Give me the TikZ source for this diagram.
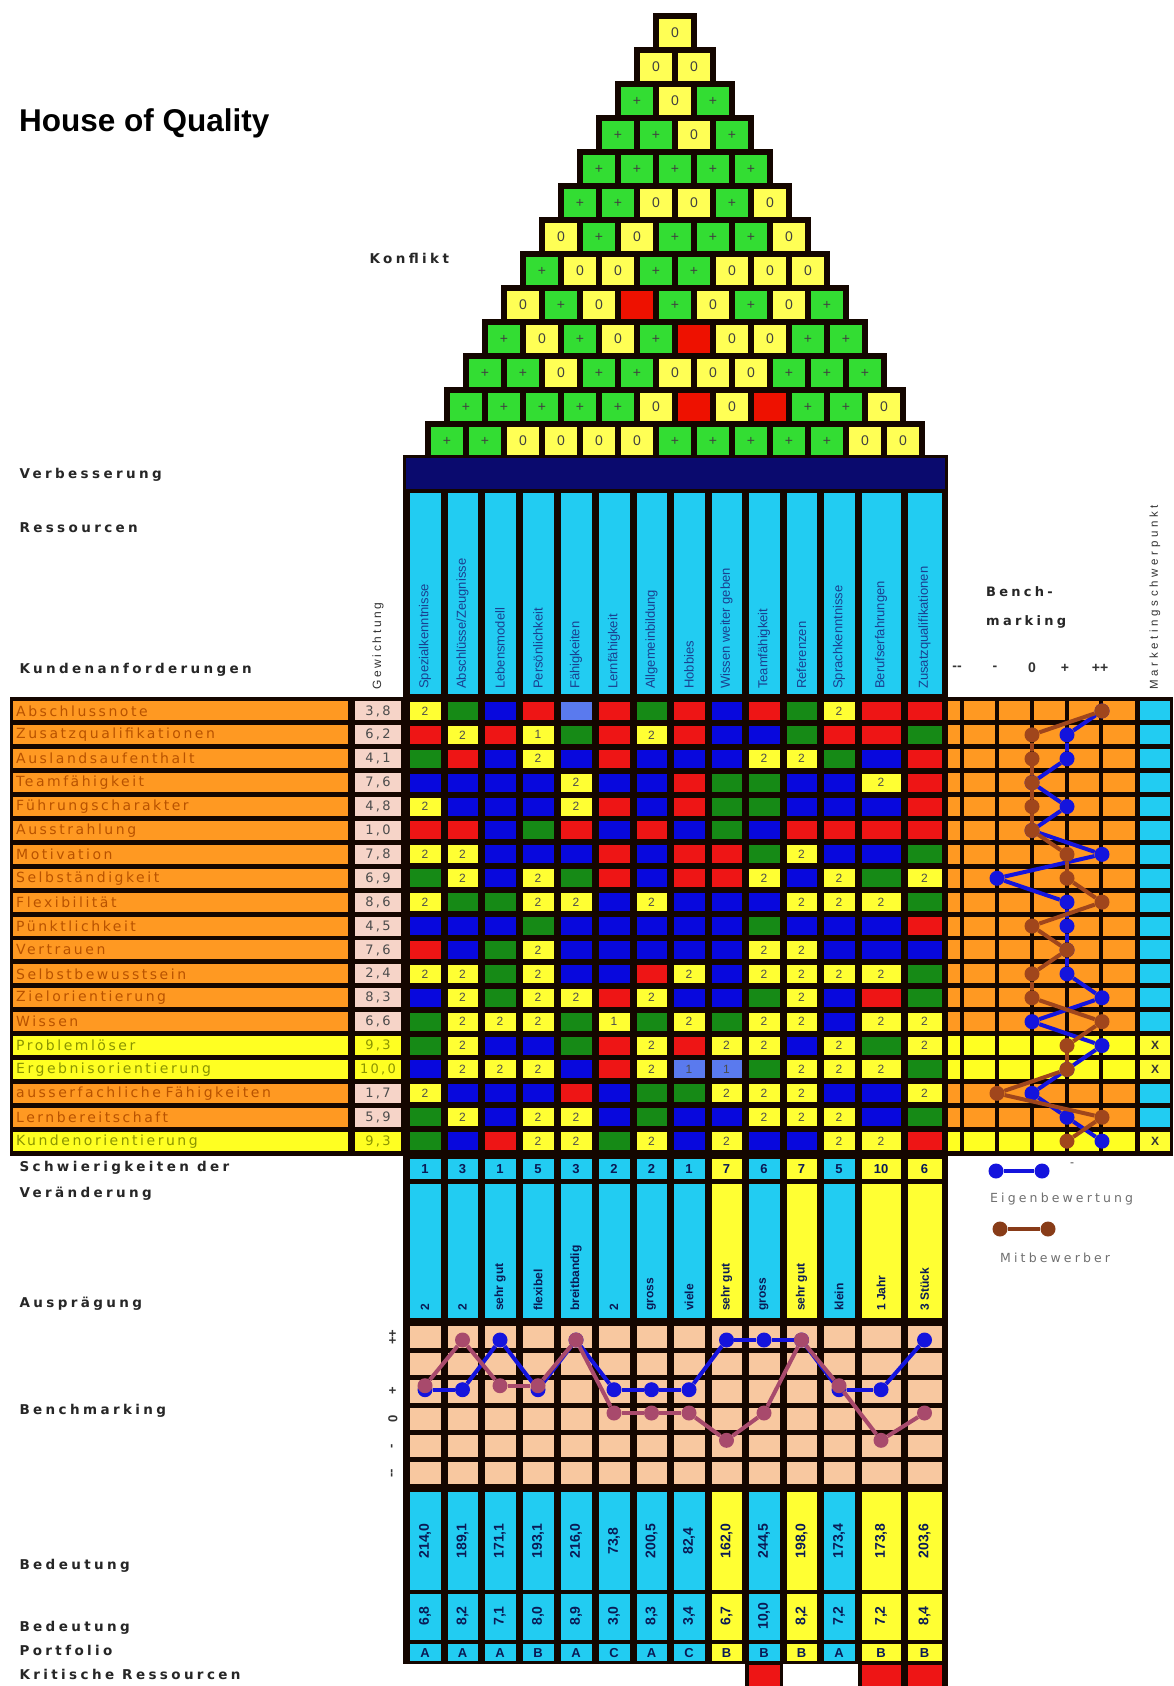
\documentclass[tikz,border=0pt]{standalone}
\usepackage{fontspec}
\setmainfont{Liberation Sans}
\newfontfamily\lblfont[LetterSpace=25]{DejaVu Sans}
\newfontfamily\rowfont[LetterSpace=18]{DejaVu Sans}
\newfontfamily\legfont[LetterSpace=25]{DejaVu Sans}
\newfontfamily\gewfont[LetterSpace=22]{Liberation Sans}
\newfontfamily\mktfont[LetterSpace=32]{Liberation Sans}

\definecolor{roofg}{HTML}{33DD33}
\definecolor{roofy}{HTML}{FFFF55}
\definecolor{roofr}{HTML}{EE1100}
\definecolor{band}{HTML}{0A0A6E}
\definecolor{cyanc}{HTML}{22CCF2}
\definecolor{my}{HTML}{FFFF33}
\definecolor{mg}{HTML}{168A16}
\definecolor{mb}{HTML}{0808DD}
\definecolor{mr}{HTML}{EE1515}
\definecolor{ml}{HTML}{5A7AEE}
\definecolor{orng}{HTML}{FF9922}
\definecolor{orngtxt}{HTML}{B85200}
\definecolor{ylw}{HTML}{FFFF22}
\definecolor{ylwtxt}{HTML}{8A9400}
\definecolor{wpink}{HTML}{F6D4C8}
\definecolor{peach}{HTML}{F8C8A0}
\definecolor{gridc}{HTML}{140600}
\definecolor{ptblue}{HTML}{1414DD}
\definecolor{ptbrown}{HTML}{A0461C}
\definecolor{ptmauve}{HTML}{A84A6C}
\definecolor{hdrtxt}{HTML}{1A4090}
\definecolor{btmtxt}{HTML}{0A1A55}
\definecolor{legtxt}{HTML}{707070}

% column edges of the relationship matrix
\newcommand\colL[1]{\csname qcl#1\endcsname}
\newcommand\colR[1]{\csname qcr#1\endcsname}
\foreach \a/\b [count=\n] in {406/444,444/481,481/519,519/557,557/595,595/633,633/670,670/708,708/745,745/783,783/820,820/858,858/904,904/945}{%
  \expandafter\xdef\csname qcl\n\endcsname{\a}%
  \expandafter\xdef\csname qcr\n\endcsname{\b}}

\tikzset{
  roofcell/.style={rectangle, inner sep=0, minimum width=32pt, minimum height=28pt,
    font=\fontsize{14}{14}\selectfont, text=black!75},
  mcell/.style={rectangle, inner sep=0, minimum height=18pt,
    font=\fontsize{12}{12}\selectfont, text=black!70},
  lbl/.style={anchor=base west, font=\lblfont\bfseries\fontsize{13.5}{15}\selectfont, text=black!85},
  reqlbl/.style={rectangle, anchor=west, inner xsep=3pt, inner ysep=0, minimum height=19pt,
    text width=329pt, align=left, font=\rowfont\fontsize{14}{14}\selectfont},
  rowo/.style={fill=orng, text=orngtxt},
  rowy/.style={fill=ylw, text=ylwtxt},
  wcell/.style={rectangle, inner sep=0, minimum width=46pt, minimum height=19pt,
    font=\rowfont\fontsize{13}{13}\selectfont},
  wo/.style={fill=wpink, text=black!70},
  wy/.style={fill=ylw, text=ylwtxt},
  beno/.style={fill=orng},
  beny/.style={fill=ylw},
  mko/.style={rectangle, inner sep=0, minimum width=30pt, minimum height=19pt, fill=cyanc},
  mky/.style={rectangle, inner sep=0, minimum width=30pt, minimum height=19pt, fill=my,
    font=\bfseries\fontsize{12}{12}\selectfont, text=black!80},
  hdr/.style={rotate=90, anchor=west, inner sep=0, font=\fontsize{13}{13}\selectfont, text=hdrtxt},
  btm/.style={inner sep=0, font=\bfseries\fontsize{13}{13}\selectfont, text=btmtxt},
  bdot/.style={circle, inner sep=0, minimum size=15pt},
  bline/.style={line width=4pt},
}

\begin{document}
\begin{tikzpicture}[x=1pt,y=-1pt]
\useasboundingbox (0,0) rectangle (1174,1686);
\fill[white] (0,0) rectangle (1174,1686);

\node[anchor=base west, inner sep=0, font=\bfseries\fontsize{31.5}{33}\selectfont] (title) at (19,131) {House of Quality};

% ---------- roof: correlation triangle ----------
\foreach \rowdata [count=\k] in {
  {y/0},
  {y/0,y/0},
  {g/+,y/0,g/+},
  {g/+,g/+,y/0,g/+},
  {g/+,g/+,g/+,g/+,g/+},
  {g/+,g/+,y/0,y/0,g/+,y/0},
  {y/0,g/+,y/0,g/+,g/+,g/+,y/0},
  {g/+,y/0,y/0,g/+,g/+,y/0,y/0,y/0},
  {y/0,g/+,y/0,r/{},g/+,y/0,g/+,y/0,g/+},
  {g/+,y/0,g/+,y/0,g/+,r/{},y/0,y/0,g/+,g/+},
  {g/+,g/+,y/0,g/+,g/+,y/0,y/0,y/0,g/+,g/+,g/+},
  {g/+,g/+,g/+,g/+,g/+,y/0,r/{},y/0,r/{},g/+,g/+,y/0},
  {g/+,g/+,y/0,y/0,y/0,y/0,g/+,g/+,g/+,g/+,g/+,y/0,y/0}}{
  \pgfmathsetmacro\yt{16+34*(\k-1)}
  \fill[gridc] (675-19*\k-3,\yt-3) rectangle (675+19*\k+3,\yt+35);
  \foreach \col/\sym [count=\j] in \rowdata {
    \node[roofcell, fill=roof\col] (roof-\k-\j) at (675-19*\k+38*\j-19,\yt+17) {\sym};
  }
}

\node[lbl] (konflikt) at (366,263) {Konflikt};

% ---------- improvement band and resource headers ----------
\fill[gridc] (403,455) rectangle (948,698);
\fill[band] (406,458) rectangle (945,489);
\foreach \hname [count=\cc] in {Spezialkenntnisse, Abschlüsse/Zeugnisse, Lebensmodell, Persönlichkeit,
  Fähigkeiten, Lernfähigkeit, Allgemeinbildung, Hobbies, Wissen weiter geben, Teamfähigkeit,
  Referenzen, Sprachkenntnisse, Berufserfahrungen, Zusatzqualifikationen}{
  \fill[cyanc] (\colL{\cc}+4,493) rectangle (\colR{\cc}-3,694);
  \node[hdr] (hdr-\cc) at ({(\colL{\cc}+\colR{\cc})/2},689) {\hname};
}

\node[lbl] (verb) at (16,478) {Verbesserung};
\node[lbl] (ress) at (16,532) {Ressourcen};
\node[lbl] (kund) at (16,673) {Kundenanforderungen};
\node[rotate=90, anchor=west, inner sep=0, font=\gewfont\fontsize{12}{12}\selectfont, text=black!80] (gew) at (378,690) {Gewichtung};

% ---------- customer requirements, weights, benchmarking grid ----------
\fill[gridc] (10,697) rectangle (1173,1156);
\foreach \name/\w/\tp/\mk [count=\rw] in {
  Abschlussnote/{3,8}/o/{}, Zusatzqualifikationen/{6,2}/o/{}, Auslandsaufenthalt/{4,1}/o/{},
  Teamfähigkeit/{7,6}/o/{}, Führungscharakter/{4,8}/o/{}, Ausstrahlung/{1,0}/o/{},
  Motivation/{7,8}/o/{}, Selbständigkeit/{6,9}/o/{}, Flexibilität/{8,6}/o/{},
  Pünktlichkeit/{4,5}/o/{}, Vertrauen/{7,6}/o/{}, Selbstbewusstsein/{2,4}/o/{},
  Zielorientierung/{8,3}/o/{}, Wissen/{6,6}/o/{}, Problemlöser/{9,3}/y/X,
  Ergebnisorientierung/{10,0}/y/X, ausserfachliche Fähigkeiten/{1,7}/o/{},
  Lernbereitschaft/{5,9}/o/{}, Kundenorientierung/{9,3}/y/X}{
  \pgfmathsetmacro\ym{710.95+23.9*(\rw-1)}
  \node[reqlbl, row\tp] (req-\rw) at (13,\ym) {\name};
  \node[wcell, w\tp] (w-\rw) at (378,\ym) {\w};
  \foreach \a/\b in {948/960,964/995,999/1030,1034/1065,1069/1099,1103/1135}{
    \fill[ben\tp] (\a,\ym-9.5) rectangle (\b,\ym+9.5);
  }
  \node[mk\tp] (mkt-\rw) at (1155,\ym) {\mk};
}

% ---------- relationship matrix ----------
\foreach \rowdata [count=\rw] in {
  {y/2,g/{},b/{},r/{},l/{},r/{},g/{},r/{},b/{},r/{},g/{},y/2,r/{},r/{}},
  {r/{},y/2,r/{},y/1,g/{},r/{},y/2,r/{},b/{},b/{},g/{},r/{},r/{},g/{}},
  {g/{},r/{},b/{},y/2,b/{},r/{},b/{},b/{},b/{},y/2,y/2,g/{},b/{},r/{}},
  {b/{},b/{},b/{},b/{},y/2,b/{},b/{},r/{},g/{},g/{},b/{},b/{},y/2,r/{}},
  {y/2,b/{},b/{},b/{},y/2,r/{},b/{},r/{},g/{},g/{},b/{},b/{},b/{},r/{}},
  {r/{},r/{},b/{},g/{},r/{},b/{},r/{},b/{},g/{},b/{},r/{},r/{},r/{},r/{}},
  {y/2,y/2,b/{},b/{},b/{},r/{},b/{},r/{},r/{},g/{},y/2,b/{},b/{},g/{}},
  {g/{},y/2,b/{},y/2,g/{},r/{},b/{},r/{},r/{},y/2,b/{},y/2,g/{},y/2},
  {y/2,g/{},g/{},y/2,y/2,b/{},y/2,b/{},b/{},b/{},y/2,y/2,y/2,g/{}},
  {b/{},b/{},b/{},g/{},b/{},b/{},b/{},b/{},b/{},g/{},b/{},b/{},b/{},r/{}},
  {r/{},b/{},g/{},y/2,b/{},b/{},b/{},b/{},b/{},y/2,y/2,b/{},b/{},b/{}},
  {y/2,y/2,g/{},y/2,b/{},b/{},r/{},y/2,b/{},y/2,y/2,y/2,y/2,g/{}},
  {b/{},y/2,g/{},y/2,y/2,r/{},y/2,b/{},b/{},g/{},y/2,b/{},r/{},g/{}},
  {g/{},y/2,y/2,y/2,g/{},y/1,g/{},y/2,g/{},y/2,y/2,b/{},y/2,y/2},
  {g/{},y/2,b/{},b/{},g/{},r/{},y/2,r/{},y/2,y/2,b/{},y/2,g/{},y/2},
  {b/{},y/2,y/2,y/2,b/{},r/{},y/2,l/1,l/1,g/{},y/2,y/2,y/2,g/{}},
  {y/2,b/{},b/{},b/{},r/{},b/{},g/{},g/{},y/2,y/2,y/2,b/{},b/{},y/2},
  {g/{},y/2,b/{},y/2,y/2,b/{},g/{},b/{},b/{},y/2,y/2,y/2,b/{},g/{}},
  {g/{},b/{},r/{},y/2,y/2,g/{},y/2,b/{},y/2,b/{},b/{},y/2,y/2,r/{}}}{
  \pgfmathsetmacro\ym{710.95+23.9*(\rw-1)}
  \foreach \col/\txt [count=\cc] in \rowdata {
    \pgfmathsetmacro\xm{(\colL{\cc}+\colR{\cc})/2}
    \pgfmathsetmacro\cw{\colR{\cc}-\colL{\cc}-7}
    \node[mcell, fill=m\col, minimum width=\cw pt] (m-\rw-\cc) at (\xm,\ym) {\txt};
  }
}

% ---------- right benchmarking: own rating and competitor ----------
\node[anchor=base west, inner sep=0, font=\lblfont\bfseries\fontsize{13}{15}\selectfont, text=black!85] (bench1) at (986,596) {Bench-};
\node[anchor=base west, inner sep=0, font=\lblfont\bfseries\fontsize{13}{15}\selectfont, text=black!85] (bench2) at (986,625) {marking};
\foreach \s/\x in {{-{}-}/957,-/995,0/1032,+/1065,++/1100}{
  \node[inner sep=0, font=\bfseries\fontsize{14}{14}\selectfont, text=black!80] (lv\x) at (\x,668) {\s};
}
\node[rotate=90, anchor=west, inner sep=0, font=\mktfont\fontsize{11.5}{11.5}\selectfont, text=black!80] (markt) at (1155,690) {Marketingschwerpunkt};

\foreach \lv [count=\rw] in {2,1,1,0,1,0,2,-1,1,1,1,1,2,0,2,1,0,1,2}{
  \node[bdot, fill=ptblue] (eb-\rw) at (1032+35*\lv,710.95+23.9*\rw-23.9) {};
}
\foreach \i in {1,...,18}{
  \pgfmathtruncatemacro\j{\i+1}
  \draw[bline, ptblue] (eb-\i) -- (eb-\j);
}
\foreach \lv [count=\rw] in {2,0,0,0,0,0,1,1,2,0,1,0,0,2,1,1,-1,2,1}{
  \node[bdot, fill=ptbrown] (mb-\rw) at (1032+35*\lv,710.95+23.9*\rw-23.9) {};
}
\foreach \i in {1,...,18}{
  \pgfmathtruncatemacro\j{\i+1}
  \draw[bline, ptbrown] (mb-\i) -- (mb-\j);
}

% legend
\node[bdot, fill=ptblue] (lgb1) at (996,1171) {};
\node[bdot, fill=ptblue] (lgb2) at (1042,1171) {};
\draw[bline, ptblue] (lgb1) -- (lgb2);
\node[inner sep=0, font=\fontsize{12}{12}\selectfont, text=black!70] (lgdash) at (1072,1165) {-};
\node[anchor=base west, inner sep=0, font=\legfont\fontsize{12.5}{14}\selectfont, text=legtxt] (lgtxt1) at (990,1202) {Eigenbewertung};
\node[bdot, fill=ptbrown!85!black] (lgm1) at (1000,1229) {};
\node[bdot, fill=ptbrown!85!black] (lgm2) at (1048,1229) {};
\draw[bline, ptbrown!85!black] (lgm1) -- (lgm2);
\node[anchor=base west, inner sep=0, font=\legfont\fontsize{12.5}{14}\selectfont, text=legtxt] (lgtxt2) at (1000,1262) {Mitbewerber};

% ---------- lower rooms ----------
\node[lbl] (schw1) at (16,1171) {Schwierigkeiten der};
\node[lbl] (schw2) at (16,1197) {Veränderung};
\node[lbl] (auspr) at (16,1307) {Ausprägung};
\node[lbl] (bench) at (16,1414) {Benchmarking};
\node[lbl] (bed1) at (16,1569) {Bedeutung};
\node[lbl] (bed2) at (16,1631) {Bedeutung};
\node[lbl] (portf) at (16,1655) {Portfolio};
\node[lbl] (krit) at (16,1679) {Kritische Ressourcen};

\fill[gridc] (403,1155) rectangle (948,1664);
% peach benchmarking grid
\foreach \pr in {0,...,5}{
  \foreach \cc in {1,...,14}{
    \fill[peach] (\colL{\cc}+4,1323+27.33*\pr+2.5) rectangle (\colR{\cc}-3,1323+27.33*\pr+27.33-2.5);
  }
}
\foreach \s/\y in {++/1337,+/1391,0/1419,-/1446,{-{}-}/1473}{
  \node[rotate=90, inner sep=0, font=\bfseries\fontsize{13}{13}\selectfont, text=black!80] (lvb\y) at (393,\y) {\s};
}

\tikzset{cellc/.style={fill=cyanc}, celly/.style={fill=my}}
\foreach \sw/\au/\be/\bv/\pf/\bc [count=\cc] in {
  1/2/{214,0}/{6,8}/A/c, 3/2/{189,1}/{8,2}/A/c, 1/sehr gut/{171,1}/{7,1}/A/c,
  5/flexibel/{193,1}/{8,0}/B/c, 3/breitbandig/{216,0}/{8,9}/A/c, 2/2/{73,8}/{3,0}/C/c,
  2/gross/{200,5}/{8,3}/A/c, 1/viele/{82,4}/{3,4}/C/c, 7/sehr gut/{162,0}/{6,7}/B/y,
  6/gross/{244,5}/{10,0}/B/c, 7/sehr gut/{198,0}/{8,2}/B/y, 5/klein/{173,4}/{7,2}/A/c,
  10/1 Jahr/{173,8}/{7,2}/B/y, 6/3 Stück/{203,6}/{8,4}/B/y}{
  \pgfmathsetmacro\xm{(\colL{\cc}+\colR{\cc})/2}
  \fill[cell\bc] (\colL{\cc}+4,1159) rectangle (\colR{\cc}-3,1179);
  \node[btm] (sw-\cc) at (\xm,1169) {\sw};
  \fill[cell\bc] (\colL{\cc}+4,1184) rectangle (\colR{\cc}-3,1318);
  \node[btm, rotate=90, anchor=west, font=\bfseries\fontsize{12}{12}\selectfont] (au-\cc) at (\xm,1311) {\au};
  \fill[cell\bc] (\colL{\cc}+4,1492) rectangle (\colR{\cc}-3,1590);
  \node[btm, rotate=90, font=\bfseries\fontsize{14}{14}\selectfont] (be-\cc) at (\xm,1541) {\be};
  \fill[cell\bc] (\colL{\cc}+4,1594) rectangle (\colR{\cc}-3,1640);
  \node[btm, rotate=90, font=\bfseries\fontsize{14}{14}\selectfont] (bv-\cc) at (\xm,1616) {\bv};
  \fill[cell\bc] (\colL{\cc}+4,1644) rectangle (\colR{\cc}-3,1661);
  \node[btm] (pf-\cc) at (\xm,1653) {\pf};
}

% critical resources
\fill[gridc] (\colL{10},1662) rectangle (\colR{10},1686);
\fill[mr] (\colL{10}+4,1665) rectangle (\colR{10}-3,1686);
\fill[gridc] (\colL{13},1662) rectangle (\colR{14}+3,1686);
\fill[mr] (\colL{13}+4,1665) rectangle (\colR{13}-3,1686);
\fill[mr] (\colL{14}+4,1665) rectangle (\colR{14}-3,1686);

% lower benchmarking lines
\foreach \lv [count=\cc] in {1,1,2,1,2,1,1,1,2,2,2,1,1,2}{
  \pgfmathsetmacro\xm{(\colL{\cc}+\colR{\cc})/2}
  \pgfmathsetmacro\yy{\lv==2 ? 1340 : 1417-27.3*\lv}
  \node[bdot, fill=ptblue] (bb-\cc) at (\xm,\yy) {};
}
\foreach \i in {1,...,13}{
  \pgfmathtruncatemacro\j{\i+1}
  \draw[bline, ptblue] (bb-\i) -- (bb-\j);
}
\foreach \lv [count=\cc] in {1,2,1,1,2,0,0,0,-1,0,2,1,-1,0}{
  \pgfmathsetmacro\xm{(\colL{\cc}+\colR{\cc})/2}
  \pgfmathsetmacro\yy{\lv==2 ? 1340 : 1413-27.3*\lv}
  \node[bdot, fill=ptmauve] (bm-\cc) at (\xm,\yy) {};
}
\foreach \i in {1,...,13}{
  \pgfmathtruncatemacro\j{\i+1}
  \draw[bline, ptmauve] (bm-\i) -- (bm-\j);
}
\end{tikzpicture}
\end{document}
